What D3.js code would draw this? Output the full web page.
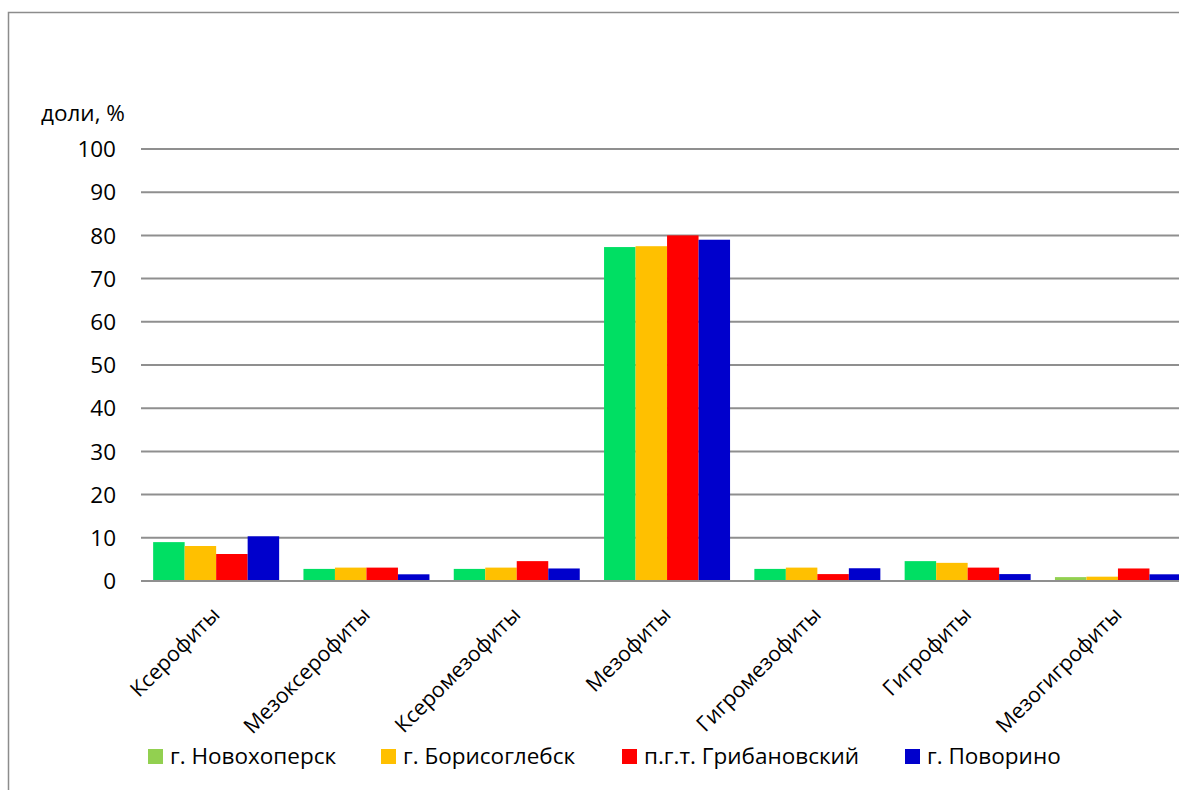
<!DOCTYPE html>
<html>
<head>
<meta charset="utf-8">
<script src="https://cdn.jsdelivr.net/npm/d3@7"></script>
<style>
  html, body { margin: 0; padding: 0; background: #fff; }
  svg { display: block; font-family: "Open Sans", sans-serif; }
</style>
</head>
<body>
<svg id="chart" width="1179" height="790"></svg>
<script>
// Ecological groups of plants by water regime
const categories = ["Ксерофиты", "Мезоксерофиты", "Ксеромезофиты", "Мезофиты",
                    "Гигромезофиты", "Гигрофиты", "Мезогигрофиты"];
const seriesNames = ["г. Новохоперск", "г. Борисоглебск", "п.г.т. Грибановский", "г. Поворино"];
const novokhopersk  = [9.0, 2.8, 2.8, 77.3, 2.8, 4.6, 0.9];
const borisoglebsk  = [8.1, 3.1, 3.1, 77.5, 3.1, 4.2, 1.0];
const gribanovsky   = [6.25, 3.1, 4.6, 80.0, 1.6, 3.1, 2.9];
const povorino      = [10.35, 1.55, 2.9, 79.0, 2.95, 1.6, 1.55];
const yTicks = [0, 10, 20, 30, 40, 50, 60, 70, 80, 90, 100];

const seriesValues = [novokhopersk, borisoglebsk, gribanovsky, povorino];
const barColors = ["#00DF63", "#FFC000", "#FF0000", "#0000CC"];
const legendColors = ["#92D050", "#FFC000", "#FF0000", "#0000CC"];

const svg = d3.select("#chart");
const fontSize = 22.5;
const catFontSize = 21.3;

// outer frame (extends past the right and bottom edges)
svg.append("rect")
  .attr("x", 8.5).attr("y", 12.5)
  .attr("width", 1200).attr("height", 800)
  .attr("fill", "none").attr("stroke", "#8c8c8c").attr("stroke-width", 1.5);

const plotLeft = 141, plotTop = 149, plotBottom = 581;
const bandW = 150.3;
const x = d3.scaleBand()
  .domain(categories)
  .range([plotLeft, plotLeft + bandW * categories.length])
  .paddingInner(0).paddingOuter(0);
const y = d3.scaleLinear().domain([0, 100]).range([plotBottom, plotTop]);

// gridlines
svg.append("g")
  .selectAll("line")
  .data(yTicks)
  .join("line")
  .attr("x1", plotLeft).attr("x2", 1179)
  .attr("y1", d => y(d)).attr("y2", d => y(d))
  .attr("stroke", "#8f8f8f").attr("stroke-width", 2);

// y tick labels
svg.append("g")
  .selectAll("text")
  .data(yTicks)
  .join("text")
  .attr("x", 116)
  .attr("y", d => y(d))
  .attr("dy", "0.36em")
  .attr("text-anchor", "end")
  .attr("font-size", fontSize)
  .attr("fill", "#000")
  .text(d => d);

// y axis title
svg.append("text")
  .attr("x", 41).attr("y", 121)
  .attr("font-size", fontSize)
  .text("доли, %");

// bars grouped by category
const groupPad = 12.15;
const xs = d3.scaleBand()
  .domain(d3.range(seriesNames.length))
  .range([groupPad, bandW - groupPad])
  .padding(0);

const groups = svg.append("g")
  .selectAll("g")
  .data(categories)
  .join("g")
  .attr("transform", c => `translate(${x(c)},0)`);

groups.selectAll("rect")
  .data((c, ci) => seriesValues.map((vals, si) => ({ si, ci, v: vals[ci] })))
  .join("rect")
  .attr("x", d => xs(d.si))
  .attr("width", xs.bandwidth())
  .attr("y", d => y(d.v))
  .attr("height", d => y(0) - y(d.v))
  .attr("fill", d => (d.ci === categories.length - 1 && d.si === 0) ? legendColors[0] : barColors[d.si]);

// baseline
svg.append("line")
  .attr("x1", plotLeft).attr("x2", 1179)
  .attr("y1", y(0)).attr("y2", y(0))
  .attr("stroke", "#8f8f8f").attr("stroke-width", 2);

// category labels, rotated
svg.append("g")
  .selectAll("text")
  .data(categories)
  .join("text")
  .attr("text-anchor", "end")
  .attr("font-size", catFontSize)
  .attr("transform", c => `translate(${x(c) + x.bandwidth() / 2 + 5},${616}) rotate(-45)`)
  .text(c => c);

// legend
const legendX = [148, 381, 622, 905];
const legend = svg.append("g")
  .selectAll("g")
  .data(seriesNames)
  .join("g")
  .attr("transform", (d, i) => `translate(${legendX[i]},749)`);
legend.append("rect")
  .attr("width", 15).attr("height", 15)
  .attr("fill", (d, i) => legendColors[i]);
legend.append("text")
  .attr("x", 22).attr("y", 15)
  .attr("font-size", fontSize)
  .text(d => d);
</script>
</body>
</html>
